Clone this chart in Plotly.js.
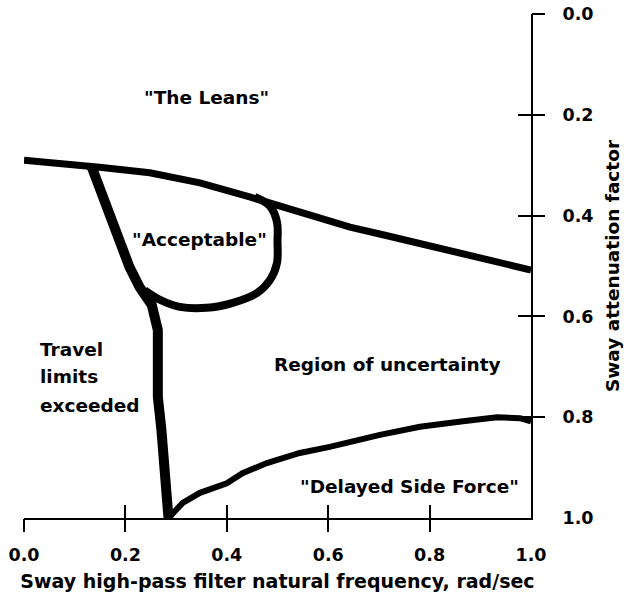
<!DOCTYPE html>
<html>
<head>
<meta charset="utf-8">
<script src="https://cdn.plot.ly/plotly-3.0.1.min.js"></script>
<style>
  html, body { margin: 0; padding: 0; background: #ffffff; }
  #chart { width: 626px; height: 601px; }
</style>
</head>
<body>
<div id="chart"></div>
<script>
// ---- Axis ticks ----
const xTickVals = [0.0, 0.2, 0.4, 0.6, 0.8, 1.0];
const xTickText = ['0.0', '0.2', '0.4', '0.6', '0.8', '1.0'];
const yTickVals = [0.0, 0.2, 0.4, 0.6, 0.8, 1.0];
const yTickText = ['0.0', '0.2', '0.4', '0.6', '0.8', '1.0'];
const crossTickVals = [0.0, 0.2, 0.4, 0.6, 0.8];

// ---- Boundary curves (x: filter frequency, y: attenuation factor) ----
// "The Leans" boundary
const leansX = [0.0, 0.05, 0.149, 0.248, 0.347, 0.445, 0.51, 0.577, 0.643, 0.708, 0.775, 0.84, 0.905, 0.972, 1.0];
const leansY = [0.290, 0.294, 0.304, 0.315, 0.335, 0.363, 0.383, 0.405, 0.423, 0.438, 0.454, 0.468, 0.484, 0.502, 0.508];

// Travel limits boundary
const travelX = [0.133, 0.163, 0.185, 0.208, 0.228, 0.252, 0.264, 0.262, 0.264, 0.271, 0.277, 0.283, 0.285];
const travelY = [0.302, 0.383, 0.448, 0.502, 0.542, 0.577, 0.627, 0.692, 0.760, 0.825, 0.891, 0.958, 1.0];

// "Acceptable" region boundary
const acceptX = [0.455, 0.485, 0.499, 0.500, 0.499, 0.485, 0.459, 0.412, 0.360, 0.307, 0.268, 0.238];
const acceptY = [0.363, 0.381, 0.413, 0.452, 0.494, 0.528, 0.554, 0.573, 0.583, 0.581, 0.567, 0.548];

// "Delayed Side Force" boundary
const delayX = [0.285, 0.313, 0.347, 0.400, 0.431, 0.479, 0.544, 0.603, 0.702, 0.781, 0.866, 0.933, 0.978, 1.0];
const delayY = [1.0, 0.970, 0.950, 0.931, 0.911, 0.891, 0.871, 0.859, 0.835, 0.819, 0.808, 0.800, 0.802, 0.808];

// ---- Region labels ----
const labelText = ['"The Leans"', '"Acceptable"', 'Travel', 'limits', 'exceeded', 'Region of uncertainty', '"Delayed Side Force"'];
const labelX = [0.360, 0.347, 0.027, 0.027, 0.027, 0.717, 0.76];
const labelY = [0.165, 0.448, 0.665, 0.720, 0.776, 0.696, 0.938];
const labelAnchor = ['center', 'center', 'left', 'left', 'left', 'center', 'center'];

const black = '#000000';
const FONT = 'DejaVu Sans, Liberation Sans, Arial, sans-serif';

const traces = [
  { name: 'The Leans boundary', x: leansX, y: leansY, mode: 'lines', line: { color: black, width: 7 } },
  { name: 'Travel limits boundary', x: travelX, y: travelY, mode: 'lines', line: { color: black, width: 10 } },
  { name: 'Acceptable boundary', x: acceptX, y: acceptY, mode: 'lines', line: { color: black, width: 8, shape: 'spline', smoothing: 1 } },
  { name: 'Delayed Side Force boundary', x: delayX, y: delayY, mode: 'lines', line: { color: black, width: 6 } },
  // empty carriers so the tick-only overlay axes (crossing ticks) are drawn
  { x: [null], y: [null], xaxis: 'x2', yaxis: 'y', mode: 'lines', hoverinfo: 'skip' },
  { x: [null], y: [null], xaxis: 'x3', yaxis: 'y', mode: 'lines', hoverinfo: 'skip' },
  { x: [null], y: [null], xaxis: 'x', yaxis: 'y2', mode: 'lines', hoverinfo: 'skip' },
  { x: [null], y: [null], xaxis: 'x', yaxis: 'y3', mode: 'lines', hoverinfo: 'skip' }
];

const annotations = labelText.map((t, i) => ({
  text: t, x: labelX[i], y: labelY[i], xref: 'x', yref: 'y',
  xanchor: labelAnchor[i], yanchor: 'middle', showarrow: false,
  font: { family: FONT, size: 18.5, color: black, weight: 'bold' }
}));

const tickAxis = (dir, extra) => Object.assign({
  ticks: dir, ticklen: 13, tickwidth: 2, tickcolor: black,
  tickmode: 'array', tickvals: crossTickVals, showticklabels: false,
  showline: false, showgrid: false, zeroline: false, fixedrange: true
}, extra);

const layout = {
  width: 626, height: 601,
  margin: { l: 24, r: 95, t: 14, b: 83, pad: 0 },
  paper_bgcolor: '#ffffff', plot_bgcolor: '#ffffff',
  font: { family: FONT, size: 18.5, color: black, weight: 'bold' },
  showlegend: false,
  xaxis: {
    range: [0, 1], showline: true, linecolor: black, linewidth: 2,
    showgrid: false, zeroline: false, ticks: '',
    tickmode: 'array', tickvals: xTickVals, ticktext: xTickText,
    tickfont: { family: FONT, size: 17.5, color: black, weight: 'bold' },
    ticklabelstandoff: 20,
    title: { text: 'Sway high-pass filter natural frequency, rad/sec', standoff: 11,
             font: { family: FONT, size: 19, color: black, weight: 'bold' } },
    fixedrange: true
  },
  xaxis2: tickAxis('outside', { overlaying: 'x', anchor: 'y', range: [0, 1] }),
  xaxis3: tickAxis('inside', { overlaying: 'x', anchor: 'y', range: [0, 1] }),
  yaxis: {
    range: [1, 0], side: 'right', anchor: 'x', showline: true, linecolor: black, linewidth: 2,
    showgrid: false, zeroline: false, ticks: '',
    tickmode: 'array', tickvals: yTickVals, ticktext: yTickText,
    tickfont: { family: FONT, size: 17.5, color: black, weight: 'bold' },
    ticklabelstandoff: 26,
    title: { text: 'Sway attenuation factor', standoff: 14,
             font: { family: FONT, size: 18.5, color: black, weight: 'bold' } },
    fixedrange: true
  },
  yaxis2: tickAxis('outside', { overlaying: 'y', anchor: 'x', side: 'right', range: [1, 0] }),
  yaxis3: tickAxis('inside', { overlaying: 'y', anchor: 'x', side: 'right', range: [1, 0] }),
  annotations: annotations
};

Plotly.newPlot('chart', traces, layout, { staticPlot: true, displayModeBar: false });
</script>
</body>
</html>
